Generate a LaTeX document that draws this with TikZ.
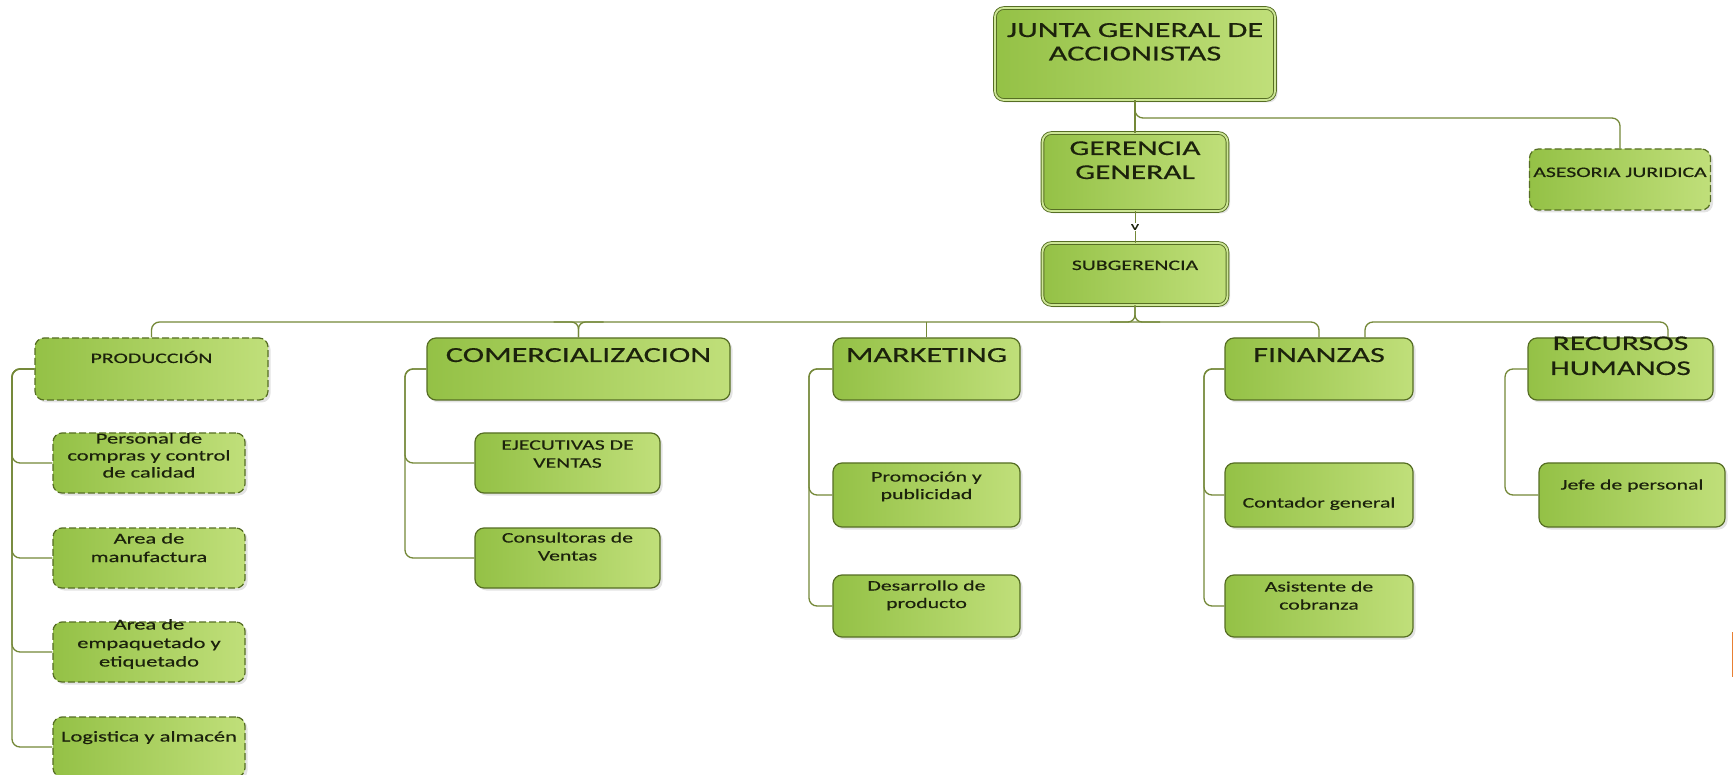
\documentclass[tikz,border=0pt]{standalone}
\usepackage{fontspec}
\setmainfont{Carlito}[FakeStretch=1.5,FakeBold=0.4]
\usetikzlibrary{shadows,calc}
\definecolor{gA}{RGB}{148,193,70}
\definecolor{gB}{RGB}{192,223,122}
\definecolor{gC}{RGB}{205,230,150}
\definecolor{bordc}{RGB}{86,110,36}
\definecolor{connc}{RGB}{116,136,56}
\definecolor{txtc}{RGB}{28,34,12}
\definecolor{barc}{RGB}{232,128,52}
\newcommand{\bt}[5]{\parbox[c][#2][t]{#1}{\centering#4\vspace*{\dimexpr#3-0.7\baselineskip\relax}\strut#5\par}}
\newcommand{\fbig}{\fontsize{21.5}{23.5}\selectfont}
\newcommand{\fsm}{\fontsize{14.5}{18}\selectfont}
\tikzset{
  gbox/.style={draw=bordc, line width=1.2pt, rounded corners=9pt, left color=gA, right color=gB,
    inner sep=0pt, text=txtc, drop shadow={opacity=0.22, shadow xshift=2.5pt, shadow yshift=-2.5pt}},
  topbox/.style={gbox, line width=0.9pt, double=gC, double distance=1.8pt},
  dbox/.style={gbox, dash pattern=on 7pt off 3pt},
  conn/.style={draw=connc, line width=1.3pt, rounded corners=8pt},
}
\begin{document}
\begin{tikzpicture}[x=1pt,y=-1pt]
\fill[white] (0,0) rectangle (1733,775);
\useasboundingbox (0,0) rectangle (1733,775);

% top level
\node[topbox] (junta) at (1135,54) {\bt{280pt}{92pt}{29pt}{\fbig}{JUNTA GENERAL DE\\ACCIONISTAS}};
\node[topbox] (gerencia) at (1135,172) {\bt{185pt}{78pt}{22pt}{\fontsize{21}{24}\selectfont}{GERENCIA\\GENERAL}};
\node[topbox] (subger) at (1135,274) {\bt{185pt}{62pt}{27pt}{\fsm}{SUBGERENCIA}};
\node[dbox] (asesoria) at (1620,179.5) {\bt{181pt}{61pt}{28pt}{\fsm}{ASESORIA JURIDICA}};

% second level
\node[dbox] (prod) at (151.5,369) {\bt{233pt}{62pt}{25pt}{\fsm}{PRODUCCIÓN}};
\node[gbox] (comerc) at (578.5,369) {\bt{303pt}{62pt}{24pt}{\fbig}{COMERCIALIZACION}};
\node[gbox] (mkt) at (926.5,369) {\bt{187pt}{62pt}{24pt}{\fbig}{MARKETING}};
\node[gbox] (fin) at (1319,369) {\bt{188pt}{62pt}{24pt}{\fbig}{FINANZAS}};
\node[gbox] (rrhh) at (1620.5,369) {\bt{185pt}{62pt}{12pt}{\fontsize{21}{25}\selectfont}{RECURSOS\\HUMANOS}};

% production children
\node[dbox] (pers) at (149,463) {\bt{192pt}{60pt}{10.5pt}{\fontsize{15}{17}\selectfont}{Personal de\\compras y control\\de calidad}};
\node[dbox] (manuf) at (149,558) {\bt{192pt}{60pt}{15.5pt}{\fontsize{15}{18.5}\selectfont}{Area de\\manufactura}};
\node[dbox] (empaq) at (149,652) {\bt{192pt}{60pt}{7.5pt}{\fontsize{15}{18.5}\selectfont}{Area de\\empaquetado y\\etiquetado}};
\node[dbox] (logi) at (149,747) {\bt{192pt}{60pt}{24.5pt}{\fontsize{15}{18}\selectfont}{Logistica y almacén}};

% comercializacion children
\node[gbox] (ejec) at (567.5,463) {\bt{185pt}{60pt}{16.7pt}{\fsm}{EJECUTIVAS DE\\VENTAS}};
\node[gbox] (cons) at (567.5,558) {\bt{185pt}{60pt}{14.5pt}{\fsm}{Consultoras de\\Ventas}};

% marketing children
\node[gbox] (prom) at (926.5,495) {\bt{187pt}{64pt}{18.5pt}{\fontsize{14.5}{17.5}\selectfont}{Promoción y\\publicidad}};
\node[gbox] (desa) at (926.5,606) {\bt{187pt}{62pt}{15.5pt}{\fontsize{14.5}{17.5}\selectfont}{Desarrollo de\\producto}};

% finanzas children
\node[gbox] (cont) at (1319,495) {\bt{188pt}{64pt}{44.5pt}{\fsm}{Contador general}};
\node[gbox] (asis) at (1319,606) {\bt{188pt}{62pt}{16.5pt}{\fsm}{Asistente de\\cobranza}};

% rrhh child
\node[gbox] (jefe) at (1632,495) {\bt{186pt}{64pt}{26.5pt}{\fsm}{Jefe de personal}};

% V mark
\node[fill=white, inner sep=0.6pt, text=txtc, font=\fontsize{12}{12}\selectfont] (vmark) at (1135,227) {v};

% helper coordinates
\coordinate (bus) at (0,322);
\coordinate (ajy) at (0,118);
\coordinate (rP) at (12,0);
\coordinate (rC) at (405,0);
\coordinate (rM) at (809,0);
\coordinate (rF) at (1204,0);
\coordinate (rR) at (1505,0);
\coordinate (finR) at ($(fin.north)+(46,0)$);
\coordinate (rrT) at ($(rrhh.north)+(47.5,0)$);

% top connectors
\draw[conn] (junta.south) -- (gerencia.north);
\draw[conn] (junta.south) |- (asesoria.north |- ajy) -- (asesoria.north);
\draw[conn, line width=1pt] (gerencia.south) -- (vmark.north);
\draw[conn, line width=1pt] (vmark.south) -- (subger.north);

% bus
\draw[conn] (prod.north) |- (fin.north |- bus) -- (fin.north);
\draw[conn, rounded corners=7pt] (subger.south) -- (subger.south |- bus) -- ++(-25,0);
\draw[conn, rounded corners=7pt] (subger.south) -- (subger.south |- bus) -- ++(25,0);
\draw[conn, rounded corners=7pt] (comerc.north) -- (comerc.north |- bus) -- ++(-25,0);
\draw[conn, rounded corners=7pt] (comerc.north) -- (comerc.north |- bus) -- ++(25,0);
\draw[conn] (mkt.north) -- (mkt.north |- bus);
\draw[conn] (finR) |- (rrT |- bus) -- (rrT);

% rails
\foreach \c in {pers,manuf,empaq,logi}
  \draw[conn] (prod.west) -- (prod.west -| rP) |- (\c.west);
\foreach \c in {ejec,cons}
  \draw[conn] (comerc.west) -- (comerc.west -| rC) |- (\c.west);
\foreach \c in {prom,desa}
  \draw[conn] (mkt.west) -- (mkt.west -| rM) |- (\c.west);
\foreach \c in {cont,asis}
  \draw[conn] (fin.west) -- (fin.west -| rF) |- (\c.west);
\draw[conn] (rrhh.west) -- (rrhh.west -| rR) |- (jefe.west);

% edge artifact (thin orange line at right edge)
\fill[barc] (1731.5,632) rectangle (1733,677);
\end{tikzpicture}
\end{document}
